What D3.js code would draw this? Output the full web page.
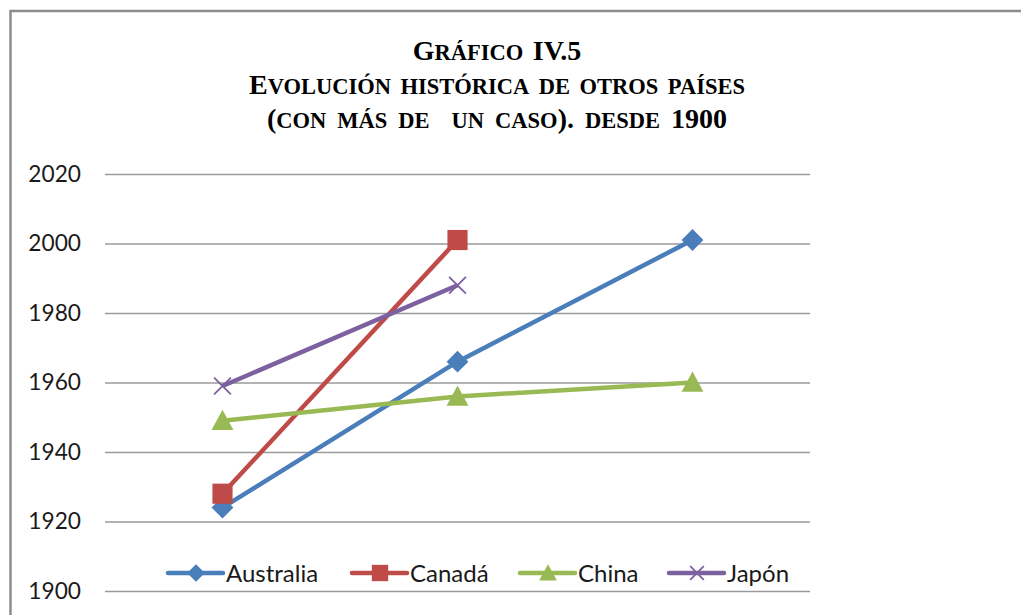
<!DOCTYPE html>
<html>
<head>
<meta charset="utf-8">
<script src="https://cdn.jsdelivr.net/npm/d3@7"></script>
<style>
  html, body { margin: 0; padding: 0; background: #fff; }
  svg { display: block; }
</style>
</head>
<body>
<svg id="chart" width="1021" height="615"></svg>
<script>
// Occurrences (by order) and the year of each case per country
const cases = ["1º", "2º", "3º"];
const seriesNames = ["Australia", "Canadá", "China", "Japón"];
const australia = [1924, 1966, 2001];
const canada = [1928, 2001];
const china = [1949, 1956, 1960];
const japon = [1959, 1988];
const yTicks = [1900, 1920, 1940, 1960, 1980, 2000, 2020];
const titleLines = ["Gráfico IV.5", "Evolución histórica de otros países", "(con más de  un caso). desde 1900"];

const seriesValues = [australia, canada, china, japon];
const colors = ["#4a7ebb", "#be4b48", "#98b954", "#7d60a0"];
const markerKinds = ["diamond", "square", "triangle", "cross"];

const svg = d3.select("#chart");

// Outer frame
svg.append("rect")
  .attr("x", 10.5).attr("y", 11)
  .attr("width", 1030).attr("height", 620)
  .attr("fill", "none")
  .attr("stroke", "#8c8c8c")
  .attr("stroke-width", 2.5);

// Title: serif bold small caps, built from runs so the small capitals
// keep a larger proportion than the browser's synthesized ones
const capSize = 28, smallSize = 22.5;
titleLines.forEach((t, i) => {
  const txt = svg.append("text")
    .attr("x", 497)
    .attr("y", 60 + i * 34)
    .attr("text-anchor", "middle")
    .attr("font-family", "'Liberation Serif', 'Times New Roman', serif")
    .attr("font-weight", "bold")
    .attr("fill", "#000")
    .style("white-space", "pre")
    .style("word-spacing", i === 2 ? "4px" : "2.5px");
  const runs = [];
  for (const ch of t) {
    const lower = ch !== ch.toUpperCase();
    const size = lower ? smallSize : capSize;
    const last = runs[runs.length - 1];
    if (last && last.size === size) last.text += ch.toUpperCase();
    else runs.push({ size, text: ch.toUpperCase() });
  }
  runs.forEach(r => txt.append("tspan").attr("font-size", r.size).text(r.text));
});

// Scales
const x = d3.scaleBand().domain(cases).range([105, 810]);
const y = d3.scaleLinear().domain([1900, 2020]).range([591, 174]);
const cx = c => x(c) + x.bandwidth() / 2;

// Gridlines and year labels
const yAxis = d3.axisLeft(y)
  .tickValues(yTicks)
  .tickSize(-(810 - 105))
  .tickPadding(24)
  .tickFormat(d3.format("d"));
const gy = svg.append("g")
  .attr("transform", "translate(105,0)")
  .call(yAxis);
gy.select(".domain").remove();
gy.selectAll(".tick line")
  .attr("stroke", "#9a9a9a")
  .attr("stroke-width", 1.3);
gy.selectAll(".tick text")
  .attr("font-family", "Lato, 'Open Sans', sans-serif")
  .attr("font-size", 22.7)
  .attr("fill", "#1a1a1a");

// Marker drawing
function drawMarker(g, kind, color, px, py, s) {
  if (kind === "diamond") {
    const r = s * 0.52;
    g.append("path")
      .attr("d", `M${px},${py - r}L${px + r},${py}L${px},${py + r}L${px - r},${py}Z`)
      .attr("fill", color);
  } else if (kind === "square") {
    const h = s * 0.48;
    g.append("rect")
      .attr("x", px - h).attr("y", py - h)
      .attr("width", 2 * h).attr("height", 2 * h)
      .attr("fill", color);
  } else if (kind === "triangle") {
    const h = s * 0.52;
    g.append("path")
      .attr("d", `M${px},${py - h}L${px + h},${py + h * 0.85}L${px - h},${py + h * 0.85}Z`)
      .attr("fill", color);
  } else {
    const h = s * 0.4;
    g.append("path")
      .attr("d", `M${px - h},${py - h}L${px + h},${py + h}M${px - h},${py + h}L${px + h},${py - h}`)
      .attr("stroke", color)
      .attr("stroke-width", 1.8)
      .attr("fill", "none");
  }
}

const line = d3.line()
  .x((d, i) => cx(cases[i]))
  .y(d => y(d));

// Series lines and markers
seriesValues.forEach((vals, k) => {
  const g = svg.append("g");
  g.append("path")
    .datum(vals)
    .attr("d", line)
    .attr("fill", "none")
    .attr("stroke", colors[k])
    .attr("stroke-width", 4.5)
    .attr("stroke-linejoin", "round");
  vals.forEach((v, i) => drawMarker(g, markerKinds[k], colors[k], cx(cases[i]), y(v), 21));
});

// Legend
const legendX = [168, 352, 520, 669];
const legend = svg.append("g");
seriesNames.forEach((name, k) => {
  const lx = legendX[k], ly = 573;
  legend.append("line")
    .attr("x1", lx).attr("x2", lx + 55)
    .attr("y1", ly).attr("y2", ly)
    .attr("stroke", colors[k])
    .attr("stroke-width", 4.5)
    .attr("stroke-linecap", "round");
  drawMarker(legend, markerKinds[k], colors[k], lx + 28, ly, 17);
  legend.append("text")
    .attr("x", lx + 58)
    .attr("y", ly + 8.5)
    .attr("font-family", "Lato, 'Open Sans', sans-serif")
    .attr("font-size", 24)
    .attr("fill", "#1a1a1a")
    .text(name);
});
</script>
</body>
</html>
